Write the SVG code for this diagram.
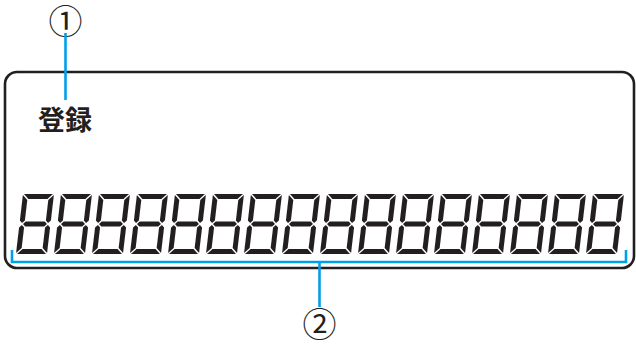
<svg xmlns="http://www.w3.org/2000/svg" xmlns:xlink="http://www.w3.org/1999/xlink" width="636" height="348" viewBox="0 0 636 348">
<style>
.frame{fill:none;stroke:#231f20;stroke-width:2.6}
.lead{fill:none;stroke:#00a0e9;stroke-width:2.6}
.seg{fill:#231f20}
.num{font-family:"Noto Sans CJK JP","Noto Sans",sans-serif;font-size:34px;fill:#231f20;dominant-baseline:central}
.lbl{font-family:"Noto Sans CJK JP","Noto Sans",sans-serif;font-size:27px;font-weight:bold;fill:#231f20}
</style>
<defs>
<g id="digit" class="seg">
<polygon points="1,0 30,0 25,5 6,5"/>
<polygon points="1,60 30,60 25,55 6,55"/>
<polygon points="3.5,30 6,27.5 25,27.5 27.5,30 25,32.5 6,32.5"/>
<polygon points="0,1 5,6 5,26.5 2.5,29 0,26.5"/>
<polygon points="31,1 26,6 26,26.5 28.5,29 31,26.5"/>
<polygon points="0,59 5,54 5,33.5 2.5,31 0,33.5"/>
<polygon points="31,59 26,54 26,33.5 28.5,31 31,33.5"/>
</g>
</defs>
<g id="display">
<rect class="frame" x="5" y="72" width="629" height="196" rx="12"/>
<g id="digits">
<use xlink:href="#digit" transform="translate(23,194) skewX(-6.7)"/>
<use xlink:href="#digit" transform="translate(61,194) skewX(-6.7)"/>
<use xlink:href="#digit" transform="translate(99,194) skewX(-6.7)"/>
<use xlink:href="#digit" transform="translate(137,194) skewX(-6.7)"/>
<use xlink:href="#digit" transform="translate(175,194) skewX(-6.7)"/>
<use xlink:href="#digit" transform="translate(213,194) skewX(-6.7)"/>
<use xlink:href="#digit" transform="translate(251,194) skewX(-6.7)"/>
<use xlink:href="#digit" transform="translate(289,194) skewX(-6.7)"/>
<use xlink:href="#digit" transform="translate(327,194) skewX(-6.7)"/>
<use xlink:href="#digit" transform="translate(365,194) skewX(-6.7)"/>
<use xlink:href="#digit" transform="translate(403,194) skewX(-6.7)"/>
<use xlink:href="#digit" transform="translate(441,194) skewX(-6.7)"/>
<use xlink:href="#digit" transform="translate(479,194) skewX(-6.7)"/>
<use xlink:href="#digit" transform="translate(517,194) skewX(-6.7)"/>
<use xlink:href="#digit" transform="translate(555,194) skewX(-6.7)"/>
<use xlink:href="#digit" transform="translate(593,194) skewX(-6.7)"/>
</g>
</g>
<g id="label1">
<text class="lbl" x="38" y="130">登録</text>
</g>
<g id="callout1">
<text class="num" x="65.5" y="19" text-anchor="middle">①</text>
</g>
<g id="callout2">
<text class="num" x="319.5" y="322" text-anchor="middle">②</text>
</g>
<g id="connectors">
<line class="lead" x1="65.5" y1="33" x2="65.5" y2="100"/>
<polyline class="lead" points="12,250 12,262 626,262 626,250"/>
<line class="lead" x1="319.5" y1="262" x2="319.5" y2="307"/>
</g>
</svg>
